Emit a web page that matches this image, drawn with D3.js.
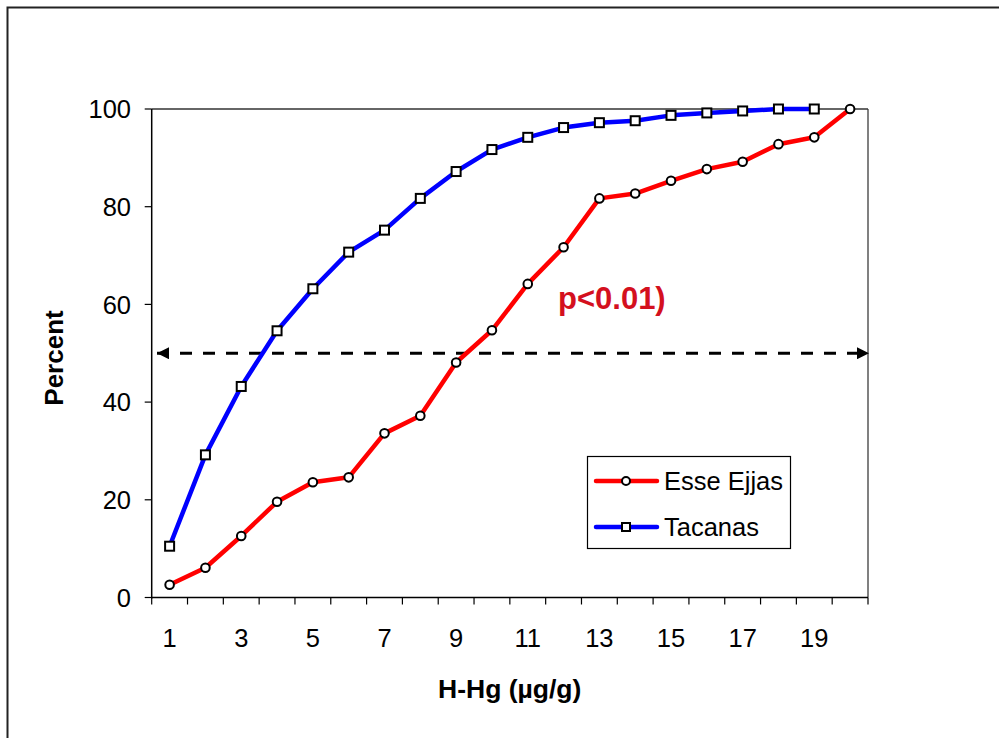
<!DOCTYPE html>
<html>
<head>
<meta charset="utf-8">
<script src="https://cdn.jsdelivr.net/npm/d3@7"></script>
<style>
  html, body { margin: 0; padding: 0; background: #fff; }
  svg { display: block; font-family: "Liberation Sans", Arial, sans-serif; }
</style>
</head>
<body>
<svg id="chart" width="999" height="738"></svg>
<script>
// ---- data ----
const categories = [1,2,3,4,5,6,7,8,9,10,11,12,13,14,15,16,17,18,19,20];
const esseEjjas = [2.6, 6.1, 12.6, 19.6, 23.6, 24.6, 33.6, 37.2, 48.1, 54.7, 64.2, 71.7, 81.7, 82.7, 85.3, 87.7, 89.2, 92.8, 94.2, 100];
const tacanas = [10.5, 29.2, 43.2, 54.6, 63.2, 70.7, 75.2, 81.7, 87.2, 91.7, 94.2, 96.2, 97.2, 97.6, 98.7, 99.2, 99.6, 100, 100];
const yTicks = [0, 20, 40, 60, 80, 100];
const xTickLabels = [1, 3, 5, 7, 9, 11, 13, 15, 17, 19];
const seriesNames = ["Esse Ejjas", "Tacanas"];
const medianLevel = 50;
const annotation = "p<0.01)";
const xTitle = "H-Hg (µg/g)";
const yTitle = "Percent";

// ---- layout ----
const L = 151.7, R = 868, T = 109, B = 597.5;
const svg = d3.select("#chart");

// outer frame
svg.append("rect").attr("x", 7.5).attr("y", 7.5).attr("width", 1100).attr("height", 1000)
  .attr("fill", "none").attr("stroke", "#222").attr("stroke-width", 2);

const x = d3.scaleBand().domain(categories).range([L, R]).padding(0);
const y = d3.scaleLinear().domain([0, 100]).range([B, T]);
const cx = d => x(d) + x.bandwidth() / 2;

// plot area border (right, top)
svg.append("line").attr("x1", R).attr("x2", R).attr("y1", T).attr("y2", B)
  .attr("stroke", "#808080").attr("stroke-width", 2);
svg.append("line").attr("x1", L).attr("x2", R).attr("y1", y(100)).attr("y2", y(100))
  .attr("stroke", "#333").attr("stroke-width", 1.5);

// y axis
const yAxis = svg.append("g");
yAxis.append("line").attr("x1", L).attr("x2", L).attr("y1", T).attr("y2", B + 1)
  .attr("stroke", "#000").attr("stroke-width", 1.5);
yTicks.forEach(t => {
  yAxis.append("line").attr("x1", L - 7).attr("x2", L).attr("y1", y(t)).attr("y2", y(t))
    .attr("stroke", "#000").attr("stroke-width", 1.2);
  yAxis.append("text").attr("x", 131).attr("y", y(t)).attr("dy", "0.36em")
    .attr("text-anchor", "end").attr("font-size", 25.5).attr("fill", "#000").text(t);
});

// x axis
const xAxis = svg.append("g");
xAxis.append("line").attr("x1", L).attr("x2", R).attr("y1", B).attr("y2", B)
  .attr("stroke", "#000").attr("stroke-width", 1.5);
const bounds = categories.map(c => x(c)).concat([R]);
bounds.forEach(b => {
  xAxis.append("line").attr("x1", b).attr("x2", b).attr("y1", B).attr("y2", B + 7)
    .attr("stroke", "#000").attr("stroke-width", 1.2);
});
xTickLabels.forEach(t => {
  xAxis.append("text").attr("x", cx(t)).attr("y", 647).attr("text-anchor", "middle")
    .attr("font-size", 25.5).attr("fill", "#000").text(t);
});

// axis titles
svg.append("text").attr("x", 509.7).attr("y", 698).attr("text-anchor", "middle")
  .attr("font-size", 26.5).attr("font-weight", "bold").text(xTitle);
svg.append("text").attr("transform", "translate(63,358) rotate(-90)").attr("text-anchor", "middle")
  .attr("font-size", 26).attr("font-weight", "bold").text(yTitle);

// dashed 50% line with arrows
const defs = svg.append("defs");
defs.append("marker").attr("id", "arrowEnd").attr("viewBox", "0 0 10 10").attr("refX", 10).attr("refY", 5)
  .attr("markerWidth", 14).attr("markerHeight", 12).attr("markerUnits", "userSpaceOnUse").attr("orient", "auto")
  .append("path").attr("d", "M0,0 L10,5 L0,10 Z").attr("fill", "#000");
defs.append("marker").attr("id", "arrowStart").attr("viewBox", "0 0 10 10").attr("refX", 10).attr("refY", 5)
  .attr("markerWidth", 14).attr("markerHeight", 12).attr("markerUnits", "userSpaceOnUse").attr("orient", "auto-start-reverse")
  .append("path").attr("d", "M0,0 L10,5 L0,10 Z").attr("fill", "#000");
svg.append("line").attr("x1", 157).attr("x2", 869).attr("y1", y(medianLevel)).attr("y2", y(medianLevel))
  .attr("stroke", "#000").attr("stroke-width", 3).attr("stroke-dasharray", "12,11")
  .attr("marker-start", "url(#arrowStart)").attr("marker-end", "url(#arrowEnd)");

// annotation
svg.append("text").attr("x", 558).attr("y", 309).attr("font-size", 31).attr("font-weight", "bold")
  .attr("fill", "#d4101e").text(annotation);

// series
const line = d3.line().x(d => cx(d.c)).y(d => y(d.v));
const redData = esseEjjas.map((v, i) => ({ c: categories[i], v }));
const blueData = tacanas.map((v, i) => ({ c: categories[i], v }));

svg.append("path").datum(blueData).attr("d", line).attr("fill", "none")
  .attr("stroke", "#0000ff").attr("stroke-width", 4.5).attr("stroke-linejoin", "round");
svg.append("path").datum(redData).attr("d", line).attr("fill", "none")
  .attr("stroke", "#ff0000").attr("stroke-width", 4.5).attr("stroke-linejoin", "round");

svg.append("g").selectAll("rect").data(blueData).join("rect")
  .attr("x", d => cx(d.c) - 4.5).attr("y", d => y(d.v) - 4.5).attr("width", 9).attr("height", 9)
  .attr("fill", "#fff").attr("stroke", "#000").attr("stroke-width", 2);
svg.append("g").selectAll("circle").data(redData).join("circle")
  .attr("cx", d => cx(d.c)).attr("cy", d => y(d.v)).attr("r", 4.3)
  .attr("fill", "#fff").attr("stroke", "#000").attr("stroke-width", 2);

// legend
const lg = svg.append("g");
lg.append("rect").attr("x", 587.5).attr("y", 456.5).attr("width", 203).attr("height", 92)
  .attr("fill", "#fff").attr("stroke", "#000").attr("stroke-width", 1.2);
const legendItems = [
  { name: seriesNames[0], color: "#ff0000", y: 481, shape: "circle" },
  { name: seriesNames[1], color: "#0000ff", y: 527, shape: "square" }
];
legendItems.forEach(it => {
  lg.append("line").attr("x1", 596).attr("x2", 657).attr("y1", it.y).attr("y2", it.y)
    .attr("stroke", it.color).attr("stroke-width", 4.5).attr("stroke-linecap", "round");
  if (it.shape === "circle") {
    lg.append("circle").attr("cx", 626).attr("cy", it.y).attr("r", 4).attr("fill", "#fff")
      .attr("stroke", "#000").attr("stroke-width", 2);
  } else {
    lg.append("rect").attr("x", 622).attr("y", it.y - 4).attr("width", 8).attr("height", 8)
      .attr("fill", "#fff").attr("stroke", "#000").attr("stroke-width", 2);
  }
  lg.append("text").attr("x", 664).attr("y", it.y).attr("dy", "0.36em").attr("font-size", 25.5)
    .attr("fill", "#000").text(it.name);
});
</script>
</body>
</html>
